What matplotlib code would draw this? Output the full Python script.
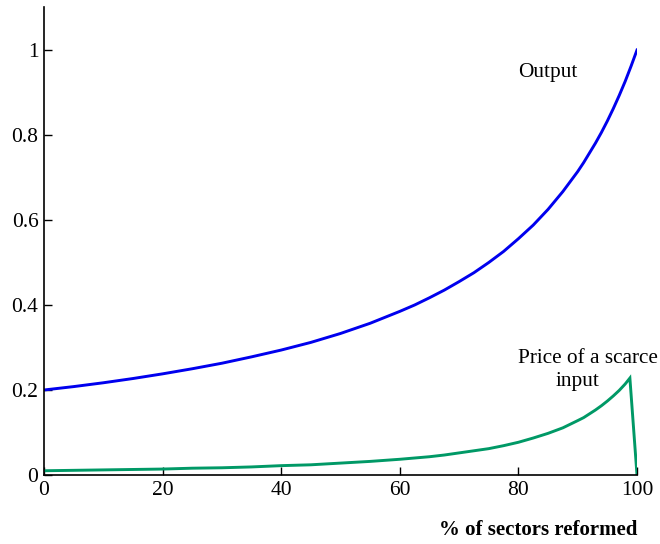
import matplotlib
matplotlib.use("Agg")
import matplotlib.pyplot as plt

plt.rcParams['font.family'] = ['Liberation Serif', 'DejaVu Serif']

# data
sectors = [0, 5, 10, 15, 20, 25, 30, 35, 40, 45, 50, 55, 60, 62.5, 65, 67.5,
           70, 72.5, 75, 77.5, 80, 82.5, 85, 87.5, 90, 91, 92, 93, 94, 95, 96,
           97, 98, 99, 100]
output = [0.200, 0.208, 0.217, 0.227, 0.238, 0.250, 0.263, 0.278, 0.294, 0.312,
          0.333, 0.357, 0.385, 0.400, 0.417, 0.435, 0.455, 0.476, 0.500, 0.526,
          0.556, 0.588, 0.625, 0.667, 0.714, 0.735, 0.758, 0.781, 0.806, 0.833,
          0.862, 0.893, 0.926, 0.962, 1.000]
price_x = [0, 5, 10, 15, 20, 25, 30, 35, 40, 45, 50, 55, 60, 62.5, 65, 67.5,
           70, 72.5, 75, 77.5, 80, 82.5, 85, 87.5, 90, 91, 92, 93, 94, 95, 96,
           97, 98, 98.8, 100]
price = [0.010, 0.011, 0.012, 0.013, 0.014, 0.016, 0.017, 0.019, 0.022, 0.024,
         0.028, 0.032, 0.037, 0.040, 0.043, 0.047, 0.052, 0.057, 0.062, 0.069,
         0.077, 0.087, 0.098, 0.111, 0.128, 0.135, 0.144, 0.153, 0.163, 0.174,
         0.186, 0.199, 0.214, 0.228, 0.0]

xticks = [0, 20, 40, 60, 80, 100]
yticks = [0, 0.2, 0.4, 0.6, 0.8, 1]
yticklabels = ['0', '0.2', '0.4', '0.6', '0.8', '1']

fig = plt.figure(figsize=(6.6, 5.44), dpi=100)
ax = fig.add_axes([44/660, 1-475/544, (637-44)/660, (475-7.5)/544])

ax.plot(sectors, output, color='#0000ee', lw=2.1, solid_joinstyle='round')
ax.plot(price_x, price, color='#009966', lw=2.1, solid_joinstyle='miter')

ax.set_xlim(0, 100)
ax.set_ylim(0, 1.1)
ax.set_xticks(xticks)
ax.set_xticklabels([str(t) for t in xticks])
ax.set_yticks(yticks)
ax.set_yticklabels(yticklabels)
ax.tick_params(direction='in', length=6, width=1, labelsize=15.5, color='black')
ax.tick_params(axis='x', pad=4)
ax.tick_params(axis='y', pad=4)
for s in ['top', 'right']:
    ax.spines[s].set_visible(False)
for s in ['left', 'bottom']:
    ax.spines[s].set_linewidth(1.2)

ax.text(85, 0.948, 'Output', ha='center', va='center', fontsize=15.3)
ax.text(91.8, 0.275, 'Price of a scarce', ha='center', va='center', fontsize=15.3)
ax.text(90, 0.219, 'input', ha='center', va='center', fontsize=15.3)

ax.text(1.0, -0.118, '% of sectors reformed', transform=ax.transAxes,
        ha='right', va='center', fontsize=15, fontweight='bold')

fig.savefig('out.png', dpi=100)
